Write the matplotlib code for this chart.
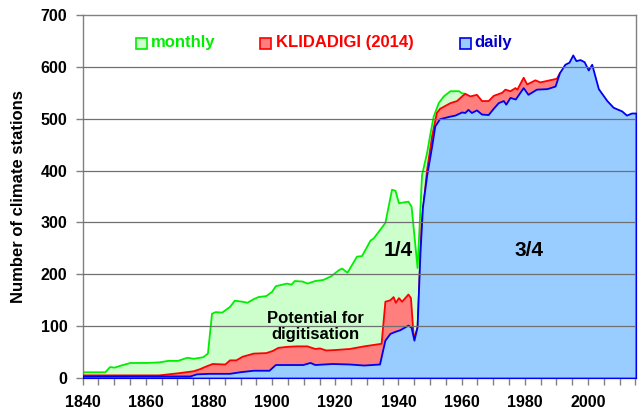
import matplotlib

matplotlib.use("Agg")

import matplotlib.pyplot as plt
import matplotlib.patches as mpatches
from matplotlib.ticker import MultipleLocator

plt.rcParams["font.family"] = ["Liberation Sans", "DejaVu Sans"]
plt.rcParams["font.weight"] = "bold"

# monthly stations (green)
monthly_years = [1840, 1847, 1848.5, 1850, 1852, 1855, 1860, 1864, 1867, 1870, 1873, 1875,
                 1878, 1879.5, 1880.8, 1882, 1884, 1886.5, 1888, 1890.5, 1892, 1894, 1895.5,
                 1898, 1899.8, 1901, 1904.5, 1906, 1907, 1909.5, 1911, 1913.5, 1916, 1918.5,
                 1921, 1922, 1923.7, 1926.7, 1928.3, 1931, 1932, 1935.7, 1937.8, 1938.9, 1940,
                 1943, 1944, 1945.9, 1947.3, 1948.9, 1950, 1951, 1952.6, 1954.2, 1956.3, 1959,
                 1960, 1961]
monthly_vals = [12, 12, 22, 21, 25, 30, 30, 31, 34, 34, 40, 38,
                41, 48, 125, 128, 127, 138, 150, 148, 146, 153, 157,
                159, 167, 178, 183, 181, 188, 187, 183, 188, 190, 197,
                209, 212, 204, 235, 236, 266, 270, 300, 364, 362, 338,
                341, 331, 213, 392, 435, 473, 505, 531, 544, 554, 554,
                550, 549]

# KLIDADIGI (2014) stations (red)
klida_years = [1840, 1864, 1870, 1875, 1877, 1878.5, 1881, 1885, 1886.5, 1888.5, 1890.5, 1894,
               1898, 1900, 1901.8, 1904.5, 1907.7, 1911, 1913.5, 1915, 1917, 1920, 1924.5,
               1929, 1934.5, 1935.7, 1937.3, 1938.3, 1939, 1940, 1941, 1943, 1943.8, 1944.6,
               1945, 1945.9, 1947.2, 1948.9, 1950.5, 1952, 1953, 1956.3, 1958.4, 1960, 1961,
               1962.6, 1964.7, 1966.3, 1968.4, 1970, 1972.7, 1973.7, 1975.3, 1976.9, 1977.5,
               1979.5, 1980.6, 1983.2, 1984.8, 1990, 1991]
klida_vals = [6, 6, 10, 14, 18, 22, 28, 27, 35, 35, 42, 48,
              49, 53, 59, 61, 62, 62, 57, 58, 54, 55, 57,
              62, 67, 148, 151, 157, 146, 155, 148, 162, 155, 86,
              80, 99, 300, 402, 467, 512, 520, 531, 535, 544, 549,
              544, 547, 535, 535, 545, 551, 557, 554, 560, 557,
              580, 567, 575, 571, 578, 589]

# daily stations (blue)
daily_years = [1840, 1874, 1876, 1880, 1886.5, 1889.7, 1894, 1899, 1901, 1909.7, 1912, 1913.5,
               1919, 1924.5, 1929, 1934, 1935.7, 1937.3, 1938.9, 1940.4, 1943, 1944, 1944.9,
               1945.9, 1946.8, 1947.6, 1948.9, 1950.5, 1951.5, 1953, 1956.3, 1957.9, 1960,
               1961, 1962, 1963.1, 1964.7, 1966.3, 1968.4, 1970, 1971.6, 1973.2, 1974, 1975.3,
               1977, 1979.5, 1981, 1983.7, 1987, 1989.6, 1991, 1992.7, 1994, 1995.2, 1996.2,
               1997.5, 1998.8, 2000.1, 2001.2, 2003.3, 2006, 2008, 2010.7, 2012.2, 2013.8, 2015.2]
daily_vals = [4, 4, 8, 9, 9, 12, 15, 15, 26, 26, 30, 26,
              28, 27, 25, 27, 73, 86, 90, 93, 102, 98, 73,
              99, 241, 330, 390, 447, 486, 500, 505, 507, 513,
              512, 518, 512, 517, 509, 508, 520, 531, 535, 528, 541,
              538, 560, 547, 557, 558, 563, 589, 605, 609, 623, 612,
              614, 610, 594, 605, 558, 535, 522, 515, 507, 511, 511]

fig = plt.figure(figsize=(6.43, 4.12), dpi=100)
ax = fig.add_axes([0.1286, 0.0825, 0.8604, 0.8811])

ax.fill_between(monthly_years, monthly_vals, color="#CCFFCC", edgecolor="#00EE00", linewidth=1.3, zorder=2)
ax.fill_between(klida_years, klida_vals, color="#FF7F7F", edgecolor="#FF0000", linewidth=1.3, zorder=3)
ax.fill_between(daily_years, daily_vals, color="#99CCFF", edgecolor="#0000EE", linewidth=1.3, zorder=4)

for yv in range(100, 700, 100):
    ax.axhline(yv, color="#707070", linewidth=0.9, zorder=5)

ax.set_xlim(1840, 2015.2)
ax.set_ylim(0, 700)
ax.xaxis.set_major_locator(MultipleLocator(20))
ax.xaxis.set_minor_locator(MultipleLocator(5))
ax.yaxis.set_major_locator(MultipleLocator(100))
ax.tick_params(axis="both", which="both", direction="out", color="#808080", labelsize=11.5)
ax.tick_params(axis="both", which="major", length=5, width=1)
ax.tick_params(axis="x", which="minor", length=5, width=1)
ax.tick_params(axis="x", which="both", pad=7.5)
ax.tick_params(axis="y", pad=6)
for s in ax.spines.values():
    s.set_color("#808080")
    s.set_linewidth(1)
ax.set_ylabel("Number of climate stations", fontsize=12, fontweight="bold")
ax.yaxis.set_label_coords(-0.103, 0.5)

ax.text(1939.8, 245, "1/4", fontsize=15, fontweight="bold", ha="center", va="center", zorder=6)
ax.text(1981.3, 245, "3/4", fontsize=15, fontweight="bold", ha="center", va="center", zorder=6)
ax.text(1913.8, 99, "Potential for\ndigitisation", fontsize=12, fontweight="bold",
        ha="center", va="center", linespacing=1.1, zorder=6)

# legend drawn by hand across the top of the plot
legend_items = [
    (136, 151, "monthly", "#CCFFCC", "#00EE00", "#00EE00"),
    (260, 276, "KLIDADIGI (2014)", "#FF7F7F", "#FF0000", "#FF0000"),
    (460, 474, "daily", "#99CCFF", "#0000EE", "#0000CC"),
]
W, H = 643, 412
for bx, tx, label, face, edge, tcol in legend_items:
    fig.patches.append(mpatches.Rectangle((bx / W, 1 - 48.5 / H), 11 / W, 11 / H,
                                          transform=fig.transFigure, facecolor=face,
                                          edgecolor=edge, linewidth=1.2))
    fig.text(tx / W, 1 - 43 / H, label, color=tcol, fontsize=12, fontweight="bold",
             ha="left", va="center")

fig.savefig("out.png", dpi=100)
